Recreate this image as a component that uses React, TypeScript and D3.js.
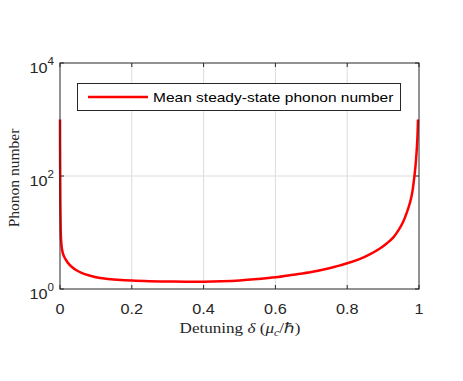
import React from "react";
import * as d3 from "d3";

const deltaVals = [0.0, 0.0004, 0.001, 0.002, 0.003, 0.005, 0.0075, 0.011, 0.0167, 0.025, 0.035, 0.0446, 0.06, 0.0817, 0.1, 0.128, 0.16, 0.2, 0.25, 0.3, 0.35, 0.4, 0.45, 0.5, 0.55, 0.6, 0.65, 0.7, 0.75, 0.78, 0.8, 0.836, 0.86, 0.891, 0.91, 0.928, 0.943, 0.956, 0.966, 0.975, 0.981, 0.986, 0.99, 0.993, 0.9955, 0.9972];
const phononVals = [1000, 150, 35, 11, 7.5, 5.4, 4.4, 3.8, 3.26, 2.75, 2.4, 2.17, 1.93, 1.73, 1.61, 1.52, 1.46, 1.41, 1.375, 1.355, 1.345, 1.35, 1.375, 1.42, 1.5, 1.61, 1.79, 2.0, 2.33, 2.62, 2.85, 3.42, 4.0, 5.2, 6.4, 8.1, 11, 15.5, 22.5, 34, 50, 85, 145, 250, 470, 1000];
const xTicks = [0, 0.2, 0.4, 0.6, 0.8, 1];
const yTicks = [1, 100, 10000];
const yExp = ["0", "2", "4"];
const legendLabel = "Mean steady-state phonon number";

export default function App() {
  const W = 463, H = 381;
  const L = 60, R = 419, T = 63, B = 289;
  const x = d3.scaleLinear().domain([0, 1]).range([L, R]);
  const y = d3.scaleLog().domain([1, 10000]).range([B, T]);
  const data = deltaVals.map((d, i) => [d, phononVals[i]] as [number, number]);
  const line = d3.line<[number, number]>().x(d => x(d[0])).y(d => y(d[1])).curve(d3.curveCatmullRom.alpha(0.5));
  const axisColor = "#262626";
  const sans = "'Liberation Sans', Arial, sans-serif";
  const serif = "'Liberation Serif', 'Times New Roman', serif";
  return (
    <svg width={W} height={H} style={{ position: "absolute", left: 0, top: 0, background: "#fff" }}>
      <rect x={0} y={0} width={W} height={H} fill="#fff" />
      {xTicks.slice(1, -1).map(t => (
        <line key={"gx" + t} x1={x(t)} x2={x(t)} y1={T} y2={B} stroke="#dcdcdc" strokeWidth={1} />
      ))}
      <line x1={L} x2={R} y1={y(100)} y2={y(100)} stroke="#dcdcdc" strokeWidth={1} />
      {xTicks.map(t => (
        <g key={"tx" + t}>
          <line x1={x(t)} x2={x(t)} y1={B} y2={B - 4} stroke={axisColor} />
          <line x1={x(t)} x2={x(t)} y1={T} y2={T + 4} stroke={axisColor} />
          <text transform={`translate(${x(t)},314) scale(1.16,1)`} textAnchor="middle" fontFamily={sans} fontSize={14} fill={axisColor}>{String(t)}</text>
        </g>
      ))}
      {yTicks.map((t, i) => (
        <g key={"ty" + t}>
          <line x1={L} x2={L + 4} y1={y(t)} y2={y(t)} stroke={axisColor} />
          <line x1={R} x2={R - 4} y1={y(t)} y2={y(t)} stroke={axisColor} />
          <text transform={`translate(${L - 6},${y(t) + 10}) scale(1.16,1)`} textAnchor="end" fontFamily={sans} fontSize={14} fill={axisColor}>
            10<tspan dy={-8} fontSize={10}>{yExp[i]}</tspan>
          </text>
        </g>
      ))}
      <path d={line(data) || ""} fill="none" stroke="#ff0000" strokeWidth={2.5} strokeLinejoin="round" />
      <rect x={L} y={T} width={R - L} height={B - T} fill="none" stroke={axisColor} strokeWidth={1} />
      <rect x={77.5} y={83.5} width={323} height={27} fill="#fff" stroke={axisColor} strokeWidth={1} />
      <line x1={88} x2={148} y1={97} y2={97} stroke="#ff0000" strokeWidth={2.5} />
      <text transform="translate(153,102) scale(1.24,1)" fontFamily={sans} fontSize={12.5} fill="#000">{legendLabel}</text>
      <text transform="translate(240,333) scale(1.18,1)" textAnchor="middle" fontFamily={serif} fontSize={14.5} fill={axisColor}>
        Detuning <tspan fontStyle="italic">δ</tspan> (<tspan fontStyle="italic">μ</tspan><tspan fontStyle="italic" fontSize={10} dy={3}>c</tspan><tspan dy={-3}>/ℏ)</tspan>
      </text>
      <text transform="translate(19,178) rotate(-90)" textAnchor="middle" fontFamily={serif} fontSize={15.5} fill={axisColor}>Phonon number</text>
    </svg>
  );
}
